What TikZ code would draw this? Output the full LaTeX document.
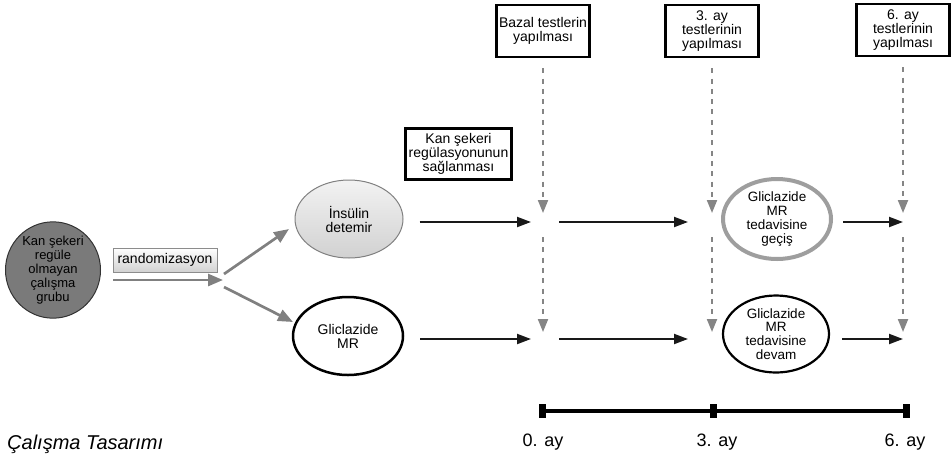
\documentclass[tikz,border=0pt]{standalone}
\usepackage{fontspec}
\setmainfont{Liberation Sans}
\usetikzlibrary{arrows.meta,shapes.geometric}
\begin{document}
\begin{tikzpicture}[x=1pt,y=-1pt,
  txt/.style={font=\fontsize{14}{14}\selectfont, align=center},
  testbox/.style={draw=black, line width=2.5pt, fill=white, minimum width=93pt, minimum height=52pt, inner sep=0pt, txt},
  blkarr/.style={draw=black!90, line width=2pt, -{Triangle[length=14pt,width=10pt]}},
  dasharr/.style={draw=black!48, line width=2pt, dash pattern=on 5pt off 5.3pt, -{Triangle[length=13pt,width=10pt]}},
  grayarr/.style={draw=black!50, line width=2.7pt, -{Triangle[length=15pt,width=12pt]}},
  ell/.style={ellipse, inner sep=0pt, txt},
  tick/.style={line width=7pt},
  lbl/.style={font=\fontsize{18}{18}\selectfont, anchor=base},
]
\useasboundingbox (0,0) rectangle (952,456);

% test boxes
\node[testbox] (bazal) at (543,31) {Bazal testlerin\\yapılması};
\node[testbox] (test3) at (712,31) {3. ay\\testlerinin\\yapılması};
\node[testbox] (test6) at (903,30) {6. ay\\testlerinin\\yapılması};
\node[draw=black, line width=2.5pt, fill=white, minimum width=106pt, minimum height=51pt, inner sep=0pt, txt] (reg) at (458.5,154) {Kan şekeri\\regülasyonunun\\sağlanması};

% left part
\node[ell, minimum width=95pt, minimum height=94pt, fill=black!52, draw=black!80, line width=1pt, font=\fontsize{13}{14}\selectfont] (grp) at (53,270) {Kan şekeri\\regüle\\olmayan\\çalışma\\grubu};
\node[draw=black!45, line width=1pt, top color=white, bottom color=black!18, minimum width=104pt, minimum height=24pt, inner sep=0pt, txt] (rand) at (165,260) {randomizasyon};
\coordinate (rs) at (113,280);
\coordinate (re) at (223,280);
\draw[grayarr] (rs) -- (re);

\node[ell, minimum width=108pt, minimum height=78pt, top color=black!5, bottom color=black!18, draw=black!50, line width=1pt] (ins) at (349,219) {İnsülin\\detemir};
\node[ell, minimum width=110pt, minimum height=78pt, fill=white, draw=black, line width=2.5pt] (gli) at (348,336) {Gliclazide\\MR};

\coordinate (d1) at (224,274);
\coordinate (d2) at (224,287);
\coordinate (ti) at (289,229);
\coordinate (tg) at (293,322);
\draw[grayarr] (d1) -- (ti);
\draw[grayarr] (d2) -- (tg);

% right ellipses
\node[ell, minimum width=108pt, minimum height=80pt, fill=white, draw=black!38, line width=4pt, font=\fontsize{13.5}{13.7}\selectfont] (gec) at (777,219) {Gliclazide\\MR\\tedavisine\\geçiş};
\node[ell, minimum width=106pt, minimum height=77pt, fill=white, draw=black, line width=2.2pt, font=\fontsize{13.5}{13.7}\selectfont] (dev) at (776,334) {Gliclazide\\MR\\tedavisine\\devam};

% junction coordinates
\coordinate (u0) at (543,222);
\coordinate (u3) at (712,222);
\coordinate (u6) at (903,222);
\coordinate (l0) at (543,339);
\coordinate (l3) at (712,339);
\coordinate (l6) at (903,339);

% dashed arrows
\foreach \b/\u/\l in {bazal/u0/l0, test3/u3/l3, test6/u6/l6}{
  \draw[dasharr, shorten <=10pt, shorten >=9pt] (\b.south) -- (\u);
  \draw[dasharr, shorten <=15pt, shorten >=7pt] (\u) -- (\l);
}

% horizontal arrows
\draw[blkarr, shorten <=16pt, shorten >=12pt] (ins.east |- u0) -- (u0);
\draw[blkarr, shorten <=16pt, shorten >=24pt] (u0) -- (u3);
\draw[blkarr, shorten <=10pt] (gec.east |- u6) -- (u6);
\draw[blkarr, shorten <=16pt, shorten >=12pt] (gli.east |- l0) -- (l0);
\draw[blkarr, shorten <=16pt, shorten >=24pt] (l0) -- (l3);
\draw[blkarr, shorten <=12pt] (dev.east |- l6) -- (l6);

% timeline
\coordinate (t0) at (542,411);
\coordinate (t3) at (713,411);
\coordinate (t6) at (906,411);
\draw[line width=4pt] (t0) -- (t6);
\foreach \t in {t0,t3,t6}{
  \draw[tick] ([yshift=7pt]\t) -- ([yshift=-7pt]\t);
}
\node[lbl] (a0) at (543,446) {0. ay};
\node[lbl] (a3) at (717,446) {3. ay};
\node[lbl] (a6) at (905,446) {6. ay};

\node[anchor=base west, inner sep=0pt, font=\fontsize{20}{20}\selectfont\itshape] (title) at (7,449) {Çalışma Tasarımı};
\end{tikzpicture}
\end{document}
